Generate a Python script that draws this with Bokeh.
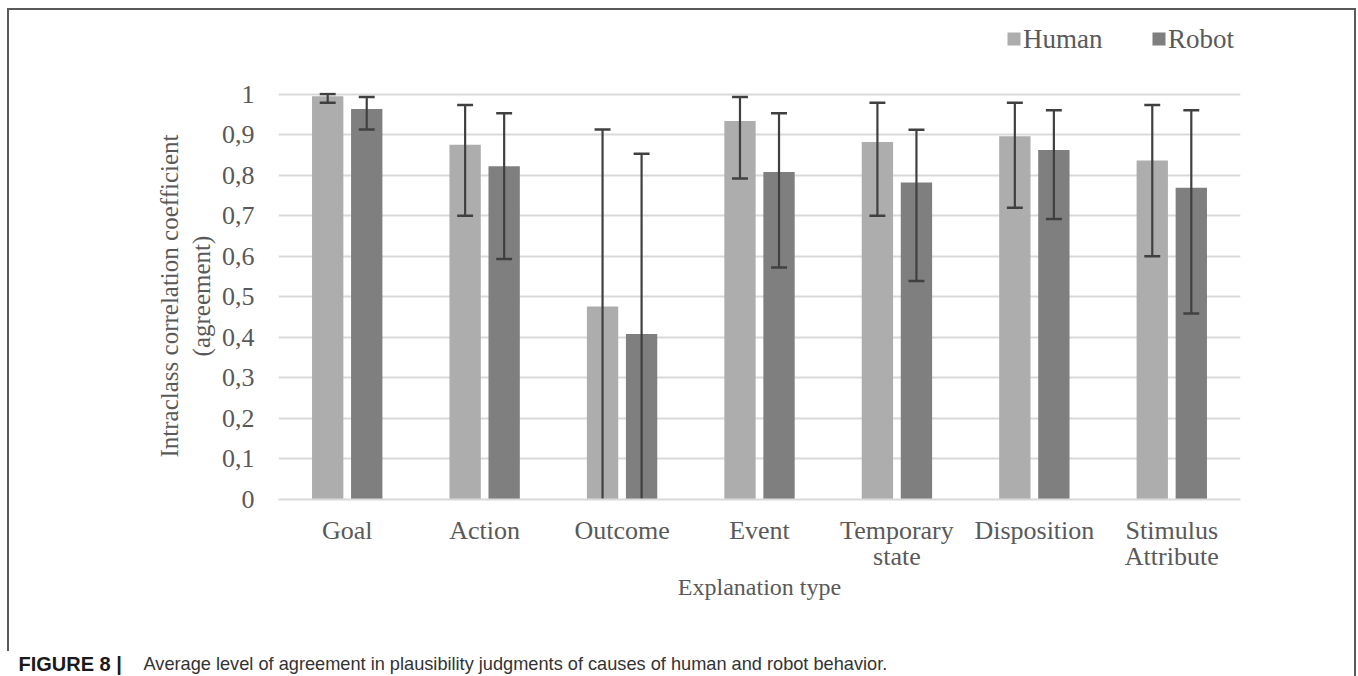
from bokeh.plotting import figure
from bokeh.layouts import column, row
from bokeh.models import (FactorRange, Range1d, ColumnDataSource, FixedTicker,
                          CustomJSTickFormatter, Label)
from bokeh.core.properties import value
from bokeh.transform import dodge
from bokeh.embed import file_html
from bokeh.resources import INLINE

# ---- data ----
categories = ["Goal", "Action", "Outcome", "Event", "Temporary\nstate",
              "Disposition", "Stimulus\nAttribute"]
human = [0.995, 0.875, 0.476, 0.934, 0.882, 0.896, 0.836]
robot = [0.963, 0.822, 0.408, 0.808, 0.782, 0.862, 0.769]
human_lo = [0.979, 0.700, 0.0, 0.792, 0.700, 0.720, 0.600]
human_hi = [1.000, 0.973, 0.913, 0.993, 0.979, 0.979, 0.973]
robot_lo = [0.913, 0.593, 0.0, 0.572, 0.539, 0.692, 0.459]
robot_hi = [0.993, 0.953, 0.853, 0.953, 0.912, 0.960, 0.960]
yticks = [0, 0.1, 0.2, 0.3, 0.4, 0.5, 0.6, 0.7, 0.8, 0.9, 1.0]
series_names = ["Human", "Robot"]
caption_bold = "FIGURE 8 |"
caption_text = ("Average level of agreement in plausibility judgments of causes "
                "of human and robot behavior.")

# ---- style ----
SERIF = "Liberation Serif"
TXT = "#595959"
C_H = "#adadad"
C_R = "#7f7f7f"
C_ERR = "#404040"
OFF = 0.142
BW = 0.228
CAP = 0.058
W = 1358
H_HEAD, H_MAIN, H_CAP = 60, 582, 34
BL, BR = 278, 118


def bare(fig):
    fig.outline_line_color = None
    fig.background_fill_alpha = 0
    fig.border_fill_alpha = 0
    fig.xgrid.visible = False
    fig.ygrid.visible = False
    return fig


# ---- header with legend (pixel-like ranges: x = page x, y = page y) ----
ph = bare(figure(width=W, height=H_HEAD,
                 x_range=Range1d(BL, W - BR), y_range=Range1d(H_HEAD, 0),
                 x_axis_type=None, y_axis_type=None,
                 min_border_left=BL, min_border_right=BR,
                 min_border_top=0, min_border_bottom=0,
                 output_backend="svg", toolbar_location=None))
LEG_X = [1013.5, 1158.5]      # swatch centres
LEG_Y = 38.5
ph.rect(x=LEG_X, y=[LEG_Y, LEG_Y], width=13, height=13,
        fill_color=[C_H, C_R], line_color=None)
ph.text(x=[x + 9 for x in LEG_X], y=[LEG_Y, LEG_Y], text=series_names,
        text_font=value(SERIF), text_font_size="27px", text_color=TXT,
        text_baseline="middle", text_align="left")

# ---- main chart ----
p = figure(width=W, height=H_MAIN,
           x_range=FactorRange(factors=categories, range_padding=0),
           y_range=Range1d(0, 1.004),
           output_backend="svg", toolbar_location=None,
           min_border_left=BL, min_border_right=BR,
           min_border_top=32, min_border_bottom=143)
p.background_fill_color = "white"
p.border_fill_alpha = 0
p.outline_line_color = None

src = ColumnDataSource(dict(cat=categories, human=human, robot=robot,
                            human_lo=human_lo, human_hi=human_hi,
                            robot_lo=robot_lo, robot_hi=robot_hi))

p.vbar(x=dodge("cat", -OFF, range=p.x_range), top="human", width=BW,
       source=src, fill_color=C_H, line_color=None)
p.vbar(x=dodge("cat", OFF, range=p.x_range), top="robot", width=BW,
       source=src, fill_color=C_R, line_color=None)

for off, lo, hi in [(-OFF, "human_lo", "human_hi"), (OFF, "robot_lo", "robot_hi")]:
    p.segment(x0=dodge("cat", off, range=p.x_range), y0=lo,
              x1=dodge("cat", off, range=p.x_range), y1=hi,
              source=src, line_color=C_ERR, line_width=2.2)
    p.segment(x0=dodge("cat", off - CAP, range=p.x_range), y0=hi,
              x1=dodge("cat", off + CAP, range=p.x_range), y1=hi,
              source=src, line_color=C_ERR, line_width=2.5)

# lower caps only where the lower bound is above the axis
for off, lo in [(-OFF, human_lo), (OFF, robot_lo)]:
    cats = [c for c, v in zip(categories, lo) if v > 0]
    vals = [v for v in lo if v > 0]
    s2 = ColumnDataSource(dict(cat=cats, lo=vals))
    p.segment(x0=dodge("cat", off - CAP, range=p.x_range), y0="lo",
              x1=dodge("cat", off + CAP, range=p.x_range), y1="lo",
              source=s2, line_color=C_ERR, line_width=2.5)

p.ygrid.grid_line_color = "#d9d9d9"
p.ygrid.grid_line_width = 2
p.xgrid.grid_line_color = None

p.yaxis.ticker = FixedTicker(ticks=yticks)
p.yaxis.formatter = CustomJSTickFormatter(code="""
if (Math.abs(tick) < 1e-9) return '0';
if (Math.abs(tick - 1) < 1e-9) return '1';
return tick.toFixed(1).replace('.', ',');
""")
p.yaxis.axis_line_color = None
p.yaxis.major_tick_line_color = None
p.yaxis.minor_tick_line_color = None
p.yaxis.major_label_standoff = 18
p.yaxis.major_label_text_font = SERIF
p.yaxis.major_label_text_font_size = "26px"
p.yaxis.major_label_text_color = TXT
p.yaxis.axis_label = "Intraclass correlation coefficient\n(agreement)"
p.yaxis.axis_label_text_font = SERIF
p.yaxis.axis_label_text_font_size = "25px"
p.yaxis.axis_label_text_font_style = "normal"
p.yaxis.axis_label_text_color = TXT
p.yaxis.axis_label_standoff = 4

p.xaxis.axis_line_color = "#d9d9d9"
p.xaxis.axis_line_width = 2
p.xaxis.major_tick_line_color = None
p.xaxis.minor_tick_line_color = None
p.xaxis.major_label_standoff = 10
p.xaxis.major_label_text_font = SERIF
p.xaxis.major_label_text_font_size = "26px"
p.xaxis.major_label_text_line_height = 0.93
p.xaxis.major_label_text_color = TXT
p.xaxis.axis_label = "Explanation type"
p.xaxis.axis_label_text_font = SERIF
p.xaxis.axis_label_text_font_size = "24px"
p.xaxis.axis_label_text_font_style = "normal"
p.xaxis.axis_label_text_color = TXT
p.xaxis.axis_label_standoff = 0

# ---- caption ----
pc = bare(figure(width=W, height=H_CAP, x_range=Range1d(0, 1), y_range=Range1d(0, 1),
                 x_axis_type=None, y_axis_type=None,
                 min_border_left=0, min_border_right=0,
                 min_border_top=0, min_border_bottom=0,
                 output_backend="svg", toolbar_location=None))
pc.add_layout(Label(x=18, y=13, x_units="screen", y_units="screen",
                    text=caption_bold, text_font="Liberation Sans",
                    text_font_style="bold", text_font_size="20px",
                    text_color="#1a1a1a", text_baseline="middle"))
pc.add_layout(Label(x=143, y=13, x_units="screen", y_units="screen",
                    text=caption_text, text_font="Liberation Sans",
                    text_font_size="18.2px", text_color="#333333",
                    text_baseline="middle"))

G = "linear-gradient(#5a5a5a,#5a5a5a)"
frame_bg = (f"{G} 8px 8px / 1347px 2px no-repeat, "
            f"{G} 7px 8px / 2px 643px no-repeat, "
            f"{G} 1354px 8px / 2px 668px no-repeat, white")
layout = column(ph, p, row(pc), spacing=0, styles={"background": frame_bg})

open("out.html", "w").write(file_html(layout, INLINE))
